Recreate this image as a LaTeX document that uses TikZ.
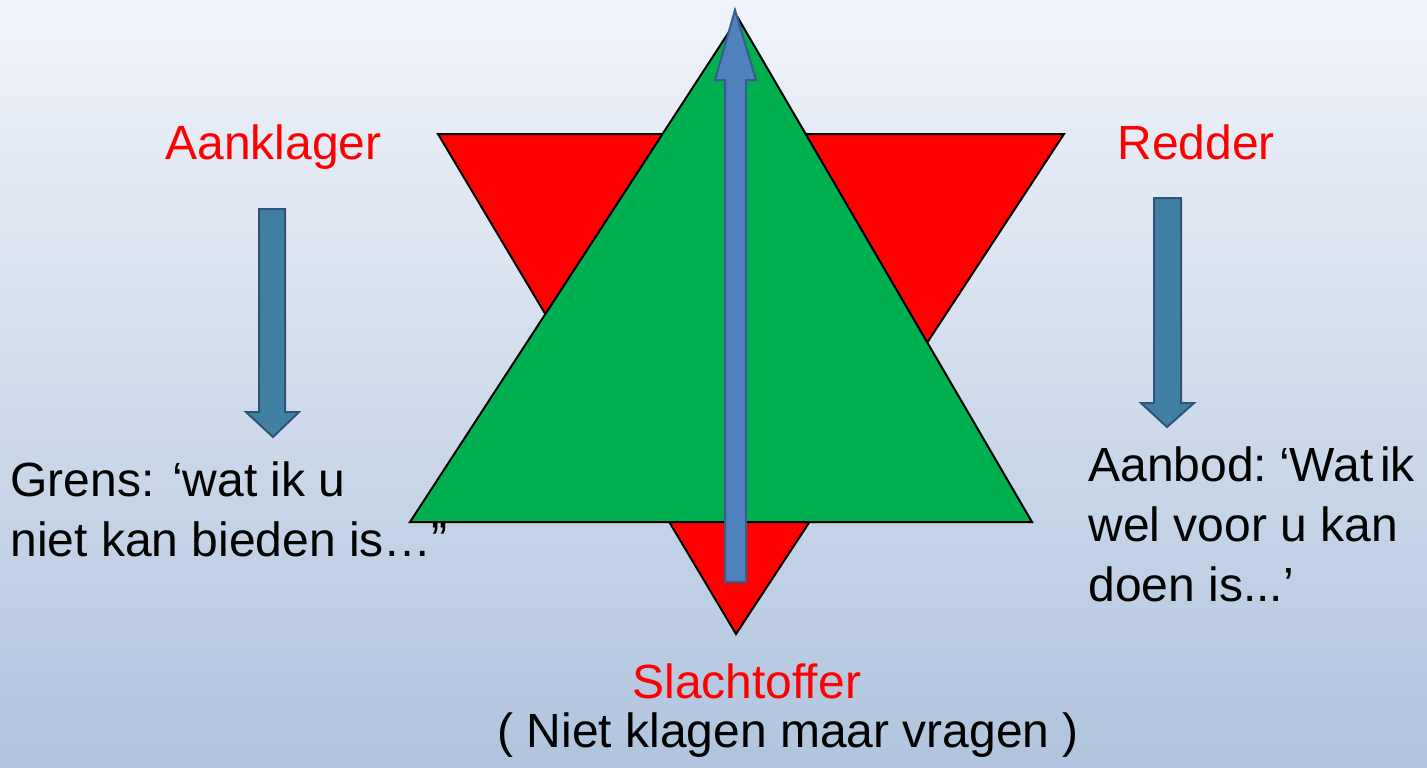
\documentclass[tikz,border=0pt]{standalone}
\usepackage{fontspec}
\setmainfont{Liberation Sans}
\definecolor{bgtop}{RGB}{241,244,250}
\definecolor{bgbot}{RGB}{176,196,222}
\definecolor{starred}{RGB}{255,0,0}
\definecolor{stargreen}{RGB}{0,176,80}
\definecolor{upfill}{RGB}{79,129,189}
\definecolor{upline}{RGB}{56,93,138}
\definecolor{sidefill}{RGB}{65,128,163}
\definecolor{sideline}{RGB}{44,86,116}
\tikzset{
  tri/.style={draw=black, line width=1pt, line join=miter},
  uparrow/.style={fill=upfill, draw=upline, line width=1pt},
  sidearrow/.style={fill=sidefill, draw=sideline, line width=1pt},
  role/.style={text=starred, font=\fontsize{24}{30}\selectfont, inner sep=0pt, anchor=base west},
  body/.style={text=black, font=\fontsize{24}{30}\selectfont, inner sep=0pt, anchor=base west, align=left},
}
\begin{document}
\begin{tikzpicture}[x=0.5pt,y=-0.5pt]
\useasboundingbox (0,0) rectangle (1427,767);
\shade[top color=bgtop, bottom color=bgbot] (0,0) rectangle (1427,767);
% red inverted triangle
\draw[tri, fill=starred] (438,134) -- (1064,134) -- (736,634) -- cycle;
% green triangle
\draw[tri, fill=stargreen] (410,522) -- (1032,522) -- (738,18) -- cycle;
% vertical arrow
\draw[uparrow] (725,582) -- (725,80) -- (715,80) -- (735,10) -- (756,80) -- (746,80) -- (746,582) -- cycle;
% left arrow
\draw[sidearrow] (259,209) -- (285,209) -- (285,412) -- (299,412) -- (273,437) -- (246,412) -- (259,412) -- cycle;
% right arrow
\draw[sidearrow] (1154,198) -- (1181,198) -- (1181,403) -- (1194,403) -- (1167,427) -- (1141,403) -- (1154,403) -- cycle;
% texts
\node[role] (aanklager) at (165,159) {Aanklager};
\node[role] (redder) at (1117,159) {Redder};
\node[role] (slachtoffer) at (632,698) {Slachtoffer};
\node[body] (vragen) at (497,747) {( Niet klagen maar vragen )};
\node[body, anchor=north west] (grens) at (10,461) {Grens: ‘wat ik u\\niet kan bieden is…”};
\node[body, anchor=north west] (aanbod) at (1088,446) {Aanbod:\hspace{0.25em}‘Wat\hspace{0.14em}ik\\wel voor u kan\\doen is...’};
\end{tikzpicture}
\end{document}
